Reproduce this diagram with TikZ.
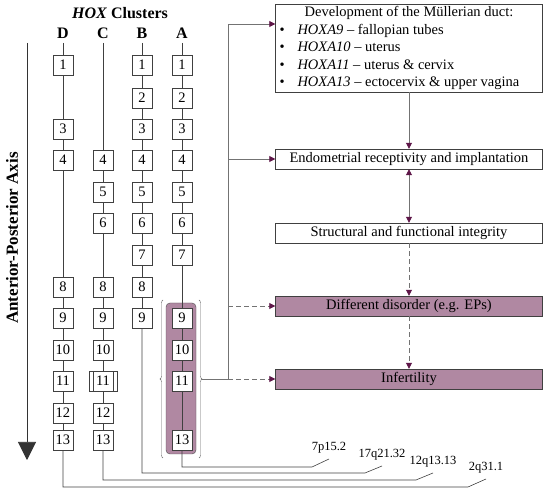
\documentclass[tikz,border=0pt]{standalone}
\usepackage{fontspec}
\setmainfont{Liberation Serif}
\usetikzlibrary{arrows.meta,decorations.pathreplacing,positioning}

\definecolor{hoxpurple}{RGB}{176,136,162}
\definecolor{tippurple}{RGB}{94,22,72}
\tikzset{
  gene box/.style={draw=black!75,fill=white,minimum width=20pt,minimum height=20pt,inner sep=0pt,font=\fontsize{14.5}{14.5}\selectfont},
  gene line/.style={draw=black!75,semithick},
  cluster head/.style={font=\fontsize{16}{16}\selectfont\bfseries},
  locus label/.style={font=\fontsize{12.5}{12.5}\selectfont,inner sep=0pt},
  outcome box/.style={draw=black!75,fill=white,minimum width=267pt,minimum height=20pt,inner sep=0pt,font=\fontsize{14.5}{15}\selectfont},
  outcome bad/.style={outcome box,fill=hoxpurple},
  flow arrow/.style={draw=black!55,thick,-{Triangle[length=6pt,width=6pt,color=tippurple]}},
  flow both/.style={flow arrow,{Triangle[length=6pt,width=6pt,color=tippurple]}-{Triangle[length=6pt,width=6pt,color=tippurple]}},
  flow dashed/.style={flow arrow,dash pattern=on 5pt off 3pt},
  bus line/.style={draw=black!55,thick}
}

\begin{document}
\begin{tikzpicture}[x=1pt,y=-1pt]
  \useasboundingbox (0,0) rectangle (550,494);
  % axis
  \coordinate (axisTop) at (27,43);
  \coordinate (axisEnd) at (27,460);
  \draw[black!80,semithick,-{Triangle[length=18pt,width=18pt]}] (axisTop) -- (axisEnd);
  \node[cluster head,font=\fontsize{17}{17}\selectfont\bfseries,rotate=90] (axislabel) at (12,238) {Anterior-Posterior Axis};
  % HOXA9--13 group
  \draw[black!70,fill=hoxpurple,rounded corners=4pt] (166,303) rectangle (196,454);
  \draw[black!60,decorate,decoration={brace,amplitude=3pt}] (199,300) -- (199,458);
  \draw[black!60,decorate,decoration={brace,amplitude=3pt}] (163,458) -- (163,300);
  \coordinate (braceTip) at (202,379);
  % clusters
  \node[cluster head] (title) at (120,13) {\textit{HOX} Clusters};
  \foreach \col/\x/\genes in {D/63/{1,3,4,8,9,10,11,12,13},C/103/{4,5,6,8,9,10,11,12,13},B/142/{1,2,3,4,5,6,7,8,9},A/182/{1,2,3,4,5,6,7,9,10,11,13}} {
    \node[cluster head] (head\col) at (\x,33) {\col};
    \coordinate (\col0) at (\x,43);
    \foreach \g [remember=\g as \last (initially 0)] in \genes {
      \pgfmathsetmacro\gy{{65,98,129,160,192,223,255,287,318,350,381,413,440}[\g-1]}
      \node[gene box] (\col\g) at (\x,\gy) {\g};
      \draw[gene line] (\col\last) -- (\col\g);
    }
  }
  \draw[black!75] ([xshift=-4pt]C11.north west) rectangle ([xshift=4pt]C11.south east);
  % chromosome loci
  \coordinate (bendA) at (312,467);
  \coordinate (endA) at (329,459);
  \coordinate (bendB) at (365,473);
  \coordinate (endB) at (382,466);
  \coordinate (bendC) at (416,480);
  \coordinate (endC) at (433,473);
  \coordinate (bendD) at (468,487);
  \coordinate (endD) at (486,479);
  \node[locus label,above=6pt of endA] (locA) {7p15.2};
  \node[locus label,above=6pt of endB] (locB) {17q21.32};
  \node[locus label,above=6pt of endC] (locC) {12q13.13};
  \node[locus label,above=6pt of endD] (locD) {2q31.1};
  \draw[gene line] (A13) |- (bendA) -- (endA);
  \draw[gene line] (B9) |- (bendB) -- (endB);
  \draw[gene line] (C13) |- (bendC) -- (endC);
  \draw[gene line] (D13) |- (bendD) -- (endD);
  % outcomes
  \node[outcome box,anchor=north,minimum height=88pt] (mullerian) at (409,4) {%
    \begin{minipage}{259pt}\fontsize{14.5}{17.5}\selectfont
      \centering Development of the Müllerian duct:\par\raggedright
      \makebox[18pt][l]{\textbullet}\textit{HOXA9} -- fallopian tubes\par
      \makebox[18pt][l]{\textbullet}\textit{HOXA10} -- uterus\par
      \makebox[18pt][l]{\textbullet}\textit{HOXA11} -- uterus \& cervix\par
      \makebox[18pt][l]{\textbullet}\textit{HOXA13} -- ectocervix \& upper vagina
    \end{minipage}};
  \node[outcome box] (receptivity) at (409,159) {Endometrial receptivity and implantation};
  \node[outcome box] (integrity) at (409,233) {Structural and functional integrity};
  \node[outcome bad] (disorder) at (409,306) {Different disorder (e.g. EPs)};
  \node[outcome bad] (infertility) at (409,379) {Infertility};
  % links
  \coordinate (busTop) at (228,24);
  \coordinate (busBottom) at (228,379);
  \draw[bus line] (braceTip) -- (busBottom) -- (busTop);
  \draw[flow arrow] (busTop) -- (busTop -| mullerian.west);
  \draw[flow arrow] (busTop |- receptivity.west) -- (receptivity.west);
  \draw[flow dashed] (busTop |- disorder.west) -- (disorder.west);
  \draw[flow dashed] (busBottom) -- (infertility.west);
  \draw[flow arrow] (mullerian) -- (receptivity);
  \draw[flow both] (receptivity) -- (integrity);
  \draw[flow dashed] (integrity) -- (disorder);
  \draw[flow dashed] (disorder) -- (infertility);
\end{tikzpicture}
\end{document}
